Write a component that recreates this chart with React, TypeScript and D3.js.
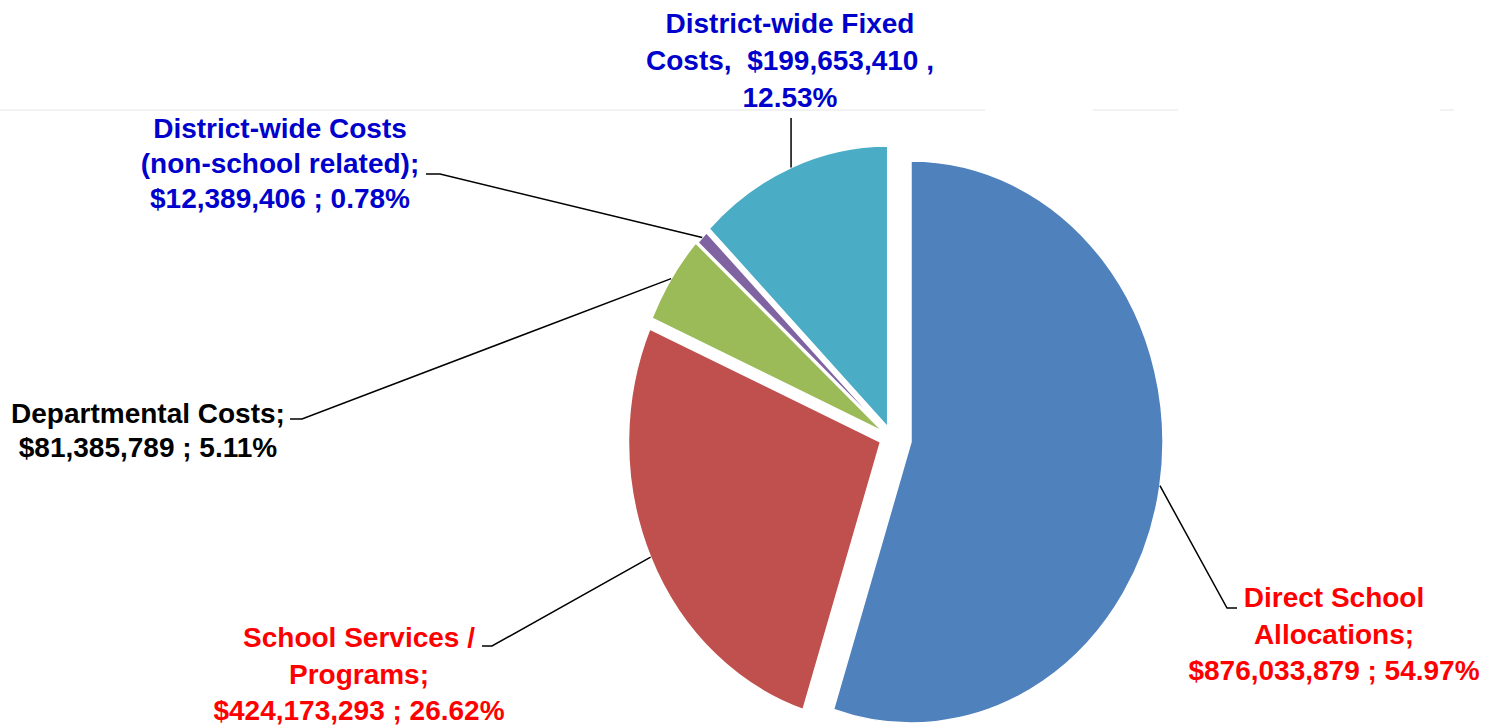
import { useMemo } from "react";
import * as d3 from "d3";

const WIDTH = 1490;
const HEIGHT = 728;

// pie geometry (the reference pie is a bit squashed horizontally)
const PIE_CX = 886;
const PIE_CY = 431;
const RY = 281;
const RX = 252;

const CATEGORIES = [
  "Direct School Allocations",
  "School Services / Programs",
  "Departmental Costs",
  "District-wide Costs (non-school related)",
  "District-wide Fixed Costs",
];
const AMOUNTS = [876033879, 424173293, 81385789, 12389406, 199653410];

const COLORS = ["#4F81BD", "#C0504D", "#9BBB59", "#8064A2", "#4BACC6"];
const LABEL_COLORS = ["#FF0000", "#FF0000", "#000000", "#0000CC", "#0000CC"];

// how far each slice is pulled out of the pie
const SLICE_SHIFT: [number, number][] = [
  [25, 11],
  [-5.5, 11],
  [-3.3, 0.3],
  [-1, 0],
  [1.7, -4],
];

// label block: centre x, first baseline, line height
const LABEL_POS = [
  { x: 1334, y: 607, lh: 36.5 },
  { x: 359, y: 647, lh: 36.5 },
  { x: 148, y: 423, lh: 34 },
  { x: 280, y: 138, lh: 35 },
  { x: 790, y: 33, lh: 37 },
];

// leader lines: label-side points, the last point is on the slice edge
const LEADER_START: ([number, number][] | null)[] = [
  [[1237, 608], [1227, 608]],
  [[482, 646], [492, 646]],
  [[290, 419], [302, 419]],
  [[426, 174], [440, 174]],
  null,
];

const fmtMoney = d3.format("$,");
const total = d3.sum(AMOUNTS);
const pct = (i: number) => `${((AMOUNTS[i] / total) * 100).toFixed(2)}%`;

const LABEL_LINES = [
  ["Direct School", "Allocations;", `${fmtMoney(AMOUNTS[0])} ; ${pct(0)}`],
  ["School Services /", "Programs;", `${fmtMoney(AMOUNTS[1])} ; ${pct(1)}`],
  ["Departmental Costs;", `${fmtMoney(AMOUNTS[2])} ; ${pct(2)}`],
  ["District-wide Costs", "(non-school related);", `${fmtMoney(AMOUNTS[3])} ; ${pct(3)}`],
  ["District-wide Fixed", `Costs,  ${fmtMoney(AMOUNTS[4])} ,`, pct(4)],
];

export default function App() {
  const slices = useMemo(() => {
    const pie = d3
      .pie<number>()
      .sort(null)
      .value((d) => d)
      .startAngle(0)
      .endAngle(2 * Math.PI);
    return pie(AMOUNTS);
  }, []);

  const arc = d3
    .arc<d3.PieArcDatum<number>>()
    .innerRadius(0)
    .outerRadius(RY);

  const sx = RX / RY;

  return (
    <div style={{ position: "absolute", left: 0, top: 0 }}>
      <svg width={WIDTH} height={HEIGHT} style={{ display: "block", background: "#fff" }}>
        {/* faint plot-area edge */}
        <g stroke="#eeeeee" strokeWidth={1.5}>
          <line x1={0} x2={985} y1={110} y2={110} />
          <line x1={1093} x2={1178} y1={110} y2={110} />
          <line x1={1440} x2={1454} y1={110} y2={110} />
        </g>

        {/* slices */}
        {slices.map((s, i) => {
          const cx = PIE_CX + SLICE_SHIFT[i][0];
          const cy = PIE_CY + SLICE_SHIFT[i][1];
          return (
            <path
              key={CATEGORIES[i]}
              d={arc(s) || ""}
              transform={`translate(${cx},${cy}) scale(${sx},1)`}
              fill={COLORS[i]}
              stroke="#fff"
              strokeWidth={1.5}
              vectorEffect="non-scaling-stroke"
            />
          );
        })}

        {/* leader lines */}
        {slices.map((s, i) => {
          const a = (s.startAngle + s.endAngle) / 2;
          const ex = PIE_CX + SLICE_SHIFT[i][0] + RX * Math.sin(a);
          const ey = PIE_CY + SLICE_SHIFT[i][1] - RY * Math.cos(a);
          const start = LEADER_START[i] ?? [[ex, 118] as [number, number]];
          const pts = [...start, [ex, ey] as [number, number]];
          return (
            <polyline
              key={`leader-${i}`}
              points={pts.map((p) => p.join(",")).join(" ")}
              fill="none"
              stroke="#000"
              strokeWidth={1.5}
            />
          );
        })}

        {/* labels */}
        {LABEL_LINES.map((lines, i) => (
          <text
            key={`label-${i}`}
            textAnchor="middle"
            fontFamily="'Liberation Sans', Arial, sans-serif"
            fontWeight="bold"
            fontSize={28}
            fill={LABEL_COLORS[i]}
            style={{ whiteSpace: "pre" }}>
            {lines.map((line, j) => (
              <tspan key={j} x={LABEL_POS[i].x} y={LABEL_POS[i].y + j * LABEL_POS[i].lh}>
                {line}
              </tspan>
            ))}
          </text>
        ))}
      </svg>
    </div>
  );
}
